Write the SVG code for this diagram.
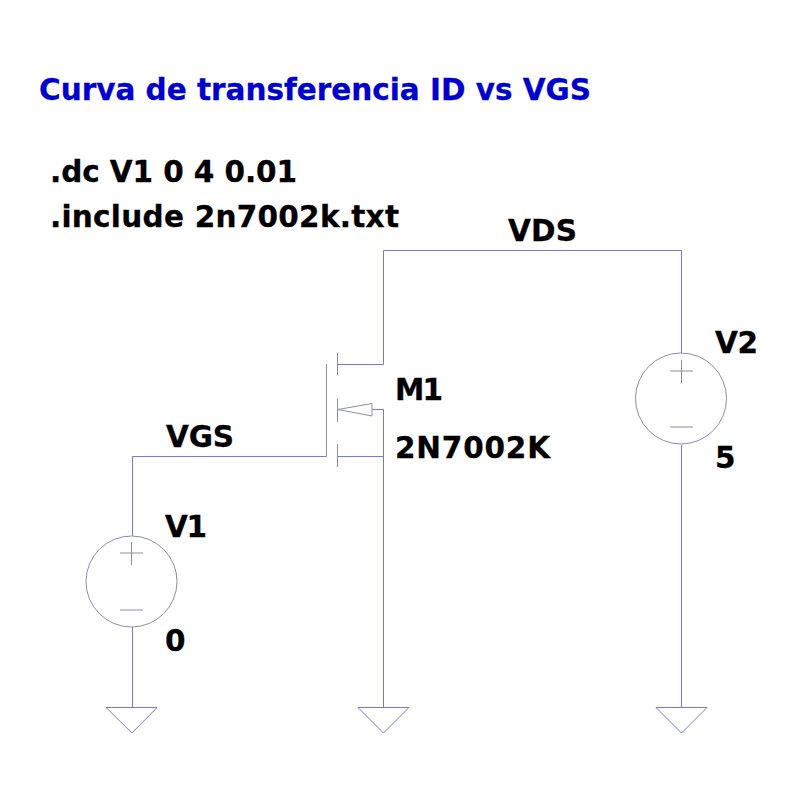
<svg xmlns="http://www.w3.org/2000/svg" width="800" height="800" viewBox="0 0 800 800">
<style>
.w{fill:none;stroke:#7878d8;stroke-width:1}
.c{fill:none;stroke:#8c8ca8;stroke-width:1}
.t{font-family:"DejaVu Sans",sans-serif;font-weight:bold;font-size:29.500px;fill:#000;stroke:#000;stroke-width:.3}
.b{fill:#0000cd;stroke:#0000cd}
</style>
<rect width="800" height="800" fill="#fff"/>
<g id="connectors">
<path class="w" d="M132.500 456.500H326.500M132.500 456.500V536M132.500 627V707M383.500 250.500H681.500V353M383.500 250.500V364.500M681.500 445V707M383.500 409.500V707M338 456.500H383.500M338 364.500H383.500M372 409.500H383.500"/>
</g>
<g id="M1">
<path class="c" d="M326.500 364V456.500M337.500 353V375M337.500 399V422M337.500 444V467"/>
<path class="c" d="M338 409.500L372 403.500V416Z"/>
</g>
<g id="V1"><circle class="c" cx="131.500" cy="581.500" r="45.500"/><path class="c" d="M120 553H143M131.500 542V565M120 610H143"/></g>
<g id="V2"><circle class="c" cx="681" cy="398.500" r="45.500"/><path class="c" d="M670 371H693M681.500 360V383M670 427H693"/></g>
<g id="gnd1"><path class="w" d="M106 707.500H157L132 733Z"/></g>
<g id="gnd2"><path class="w" d="M358 707.500H409L383.500 733Z"/></g>
<g id="gnd3"><path class="w" d="M656 707.500H707L681.500 733Z"/></g>
<g id="labels">
<text x="39" y="100" class="t b" textLength="552">Curva de transferencia ID vs VGS</text>
<text x="50" y="182" class="t" textLength="247">.dc V1 0 4 0.01</text>
<text x="50" y="227" class="t" textLength="349">.include 2n7002k.txt</text>
<text x="508" y="241" class="t" textLength="69">VDS</text>
<text x="715" y="353" class="t" textLength="43">V2</text>
<text x="715" y="468" class="t">5</text>
<text x="395" y="400" class="t" textLength="48">M1</text>
<text x="395" y="458" class="t" textLength="155">2N7002K</text>
<text x="166" y="447" class="t" textLength="68">VGS</text>
<text x="165" y="537" class="t" textLength="42">V1</text>
<text x="165" y="651" class="t">0</text>
</g>
</svg>
